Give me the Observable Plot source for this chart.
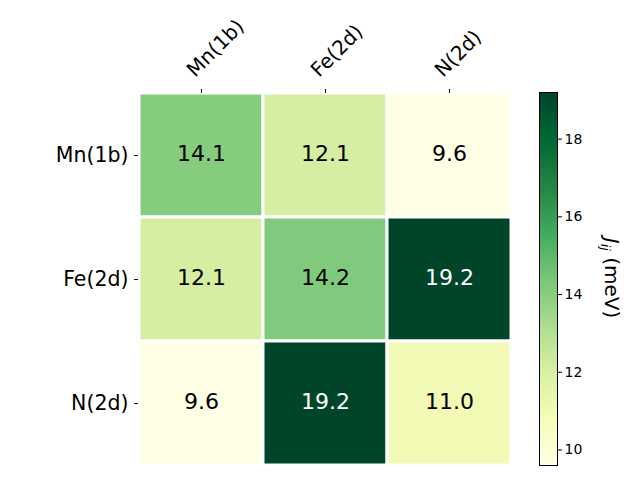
<!DOCTYPE html>
<html><head><meta charset="utf-8">
<script src="https://cdn.jsdelivr.net/npm/d3@7"></script>
<script src="https://cdn.jsdelivr.net/npm/@observablehq/plot@0.6"></script>
<style>
body{margin:0;background:#fff}
#chart{position:relative;width:640px;height:480px;font-family:"DejaVu Sans",sans-serif}
#chart svg{position:absolute;left:0;top:0;background:transparent}
</style>
</head><body><div id="chart"></div>
<script>
const rowSites = ["Mn(1b)","Fe(2d)","N(2d)"];
const colSites = ["Mn(1b)","Fe(2d)","N(2d)"];
const J = [
  [14.1, 12.1, 9.6],
  [12.1, 14.2, 19.2],
  [9.6, 19.2, 11.0]
];
const colorTicks = [10, 12, 14, 16, 18];
const vmin = 9.6, vmax = 19.2;
const YlGn = ["#ffffe5","#f7fcb9","#d9f0a3","#addd8e","#78c679","#41ab5d","#238443","#006837","#004529"];

const cells = rowSites.flatMap((r, i) => colSites.map((c, j) => ({row: r, col: c, value: J[i][j]})));
const colorOpts = () => ({type: "linear", domain: [vmin, vmax], interpolate: d3.piecewise(d3.interpolateRgb, YlGn)});
const font = "DejaVu Sans";

const main = Plot.plot({
  width: 640, height: 480,
  marginLeft: 138, marginRight: 128, marginTop: 92, marginBottom: 15,
  style: {fontFamily: font, background: "transparent", color: "black"},
  x: {domain: colSites, padding: 0, axis: null},
  y: {domain: rowSites, padding: 0, axis: null},
  color: colorOpts(),
  marks: [
    Plot.cell(cells, {x: "col", y: "row", fill: "value", stroke: "white", strokeWidth: 3}),
    Plot.text(cells, {x: "col", y: "row", text: d => d.value.toFixed(1), filter: d => d.value <= 17, fill: "black", fontSize: 22, dy: -2}),
    Plot.text(cells, {x: "col", y: "row", text: d => d.value.toFixed(1), filter: d => d.value > 17, fill: "white", fontSize: 22, dy: -2}),
    Plot.axisX({anchor: "top", tickSize: 4, tickFormat: () => "", label: null}),
    Plot.axisX({anchor: "top", tickSize: 0, tickPadding: 8, tickRotate: -45, fontSize: 20, dx: -11, dy: -11, label: null}),
    Plot.axisY({anchor: "left", tickSize: 4, tickPadding: 6, fontSize: 20.5, label: null})
  ]
});

const bar = Plot.plot({
  width: 640, height: 480,
  marginLeft: 539, marginRight: 83, marginTop: 92, marginBottom: 15,
  style: {fontFamily: font, background: "transparent", color: "black"},
  x: {domain: [0, 1], axis: null},
  y: {domain: [vmin, vmax], axis: null},
  color: colorOpts(),
  marks: [
    Plot.raster({x1: 0, x2: 1, y1: vmin, y2: vmax, width: 1, height: 400, fill: (x, y) => y, imageRendering: "auto"}),
    Plot.frame({stroke: "black", strokeWidth: 1}),
    Plot.axisY({anchor: "right", ticks: colorTicks, tickSize: 4, tickPadding: 3, fontSize: 14, label: null})
  ]
});

const chart = document.getElementById("chart");
chart.appendChild(main);
chart.appendChild(bar);

const lab = d3.select(bar).append("text")
  .attr("transform", "translate(605,278) rotate(90)")
  .attr("text-anchor", "middle")
  .attr("font-family", font)
  .attr("font-size", 20)
  .attr("fill", "black");
lab.append("tspan").attr("font-style", "italic").text("J");
lab.append("tspan").attr("font-style", "italic").attr("font-size", 13).attr("dy", 4).text("ij");
lab.append("tspan").attr("dy", -4).text(" (meV)");
</script>
</body></html>
